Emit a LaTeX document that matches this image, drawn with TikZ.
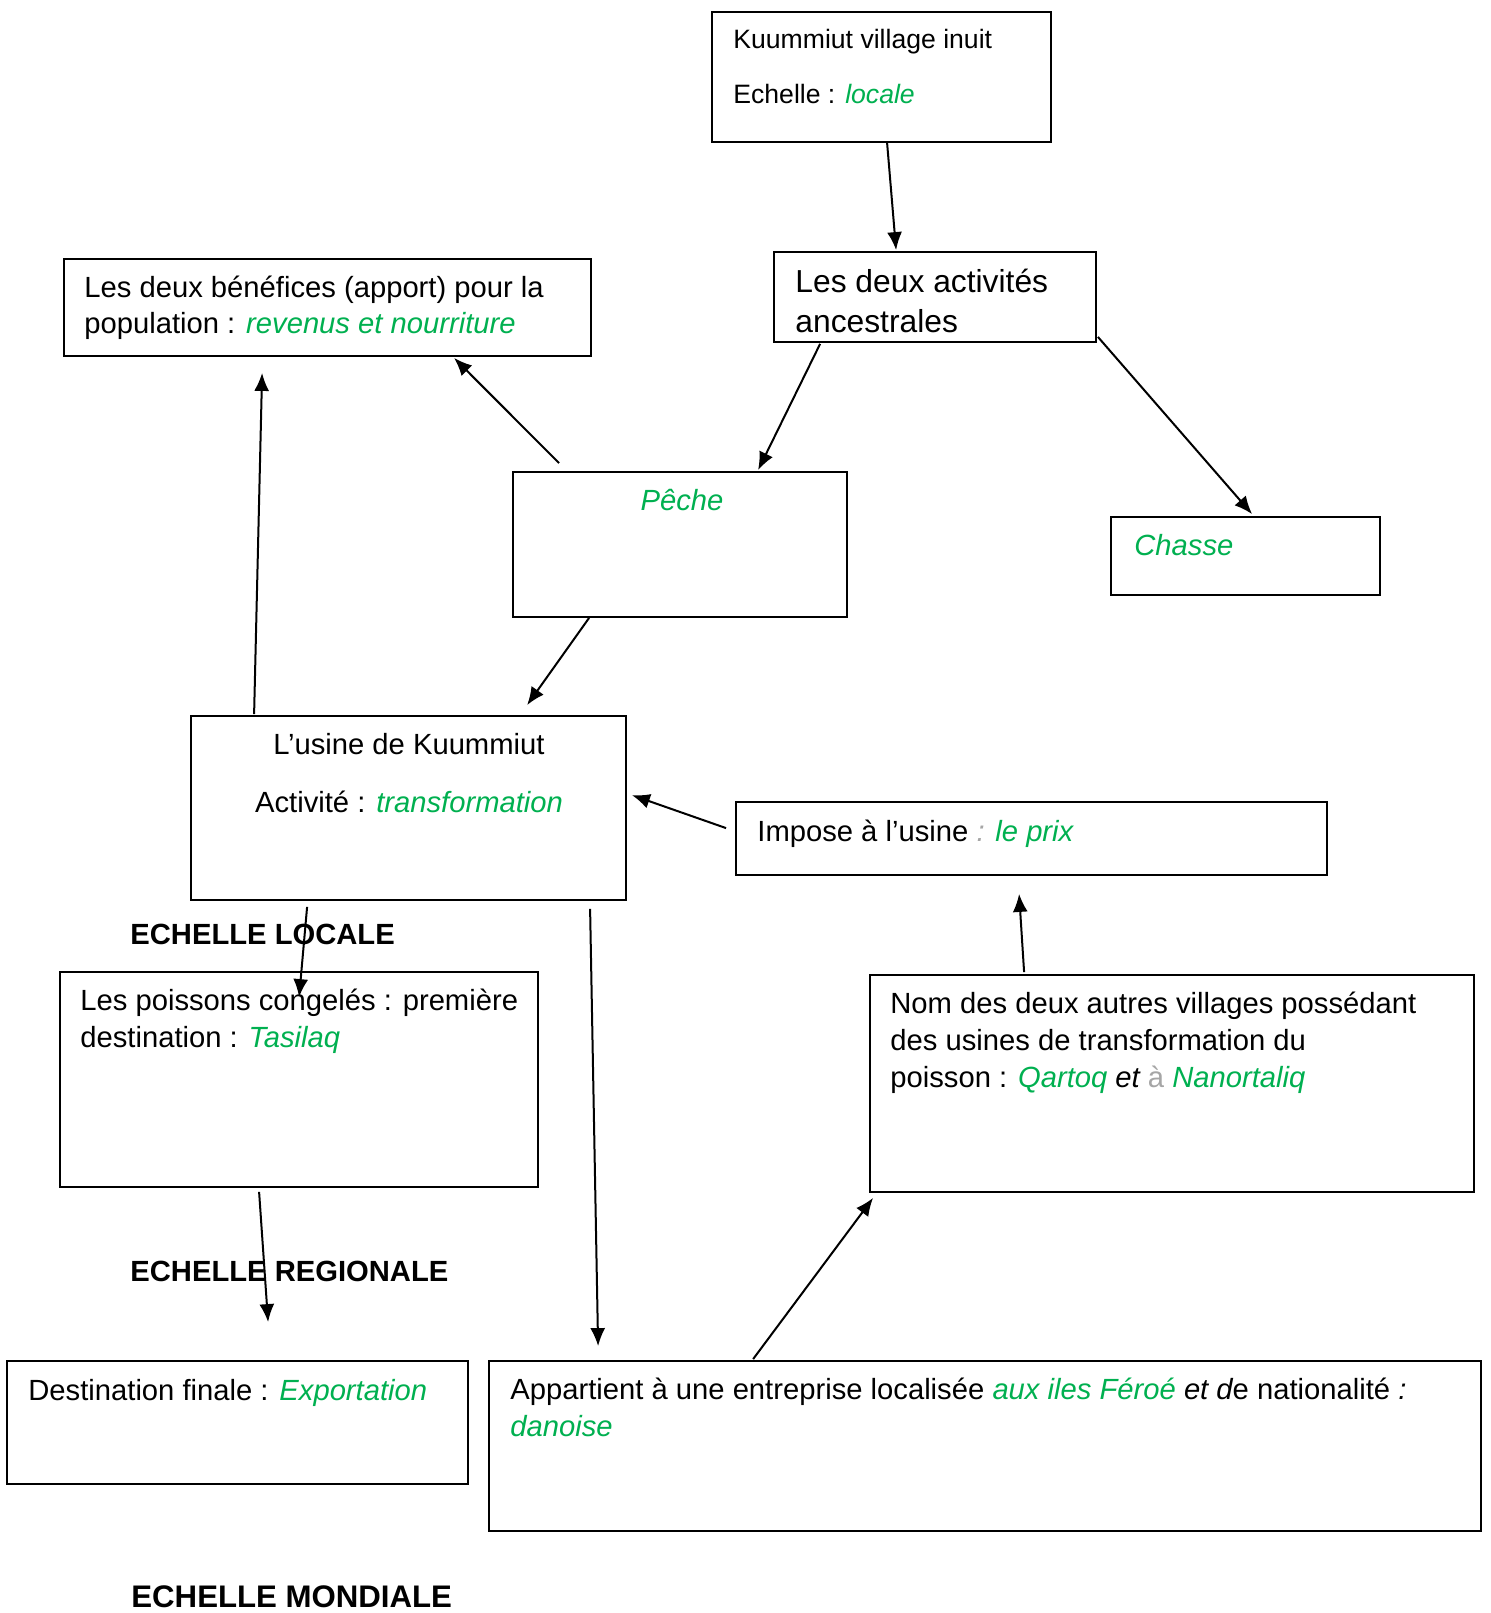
\documentclass[tikz,border=0pt]{standalone}
\usepackage{fontspec}
\setmainfont{Liberation Sans}
\usetikzlibrary{fit,arrows.meta}
\definecolor{grn}{HTML}{00B050}
\definecolor{gry}{HTML}{A6A6A6}
\tikzset{
  box/.style={draw=black, line width=0.9pt, inner sep=0pt, rectangle},
  txt/.style={inner sep=0pt, anchor=base west, font=\fontsize{14.6}{18}\selectfont},
  lbl/.style={inner sep=0pt, anchor=base west, font=\fontsize{14.6}{18}\selectfont\bfseries},
  arr/.style={line width=1pt, -{Latex[length=9pt,width=7.5pt]}},
}
\newcommand{\gi}[1]{{\color{grn}\itshape #1}}
\begin{document}
\begin{tikzpicture}[x=0.5pt,y=-0.5pt]
\path[use as bounding box, fill=white] (0,0) rectangle (1490,1613);
% boxes
\node[box, fit={(712,12)(1051,142)}] (kuu) {};
\node[box, fit={(774,252)(1096,342)}] (act) {};
\node[box, fit={(64,259)(591,356)}] (ben) {};
\node[box, fit={(513,472)(847,617)}] (pec) {};
\node[box, fit={(1111,517)(1380,595)}] (cha) {};
\node[box, fit={(191,716)(626,900)}] (usi) {};
\node[box, fit={(736,802)(1327,875)}] (imp) {};
\node[box, fit={(60,972)(538,1187)}] (con) {};
\node[box, fit={(870,975)(1474,1192)}] (nom) {};
\node[box, fit={(7,1361)(468,1484)}] (des) {};
\node[box, fit={(489,1361)(1481,1531)}] (app) {};
% texts
\node[txt, font=\fontsize{13.3}{16}\selectfont] (t1a) at (733,48) {Kuummiut village inuit};
\node[txt, font=\fontsize{13.3}{16}\selectfont] (t1b) at (733,103) {Echelle : \gi{locale}};
\node[txt, font=\fontsize{15.9}{20}\selectfont] (t2a) at (795,292) {Les deux activités};
\node[txt, font=\fontsize{15.9}{20}\selectfont] (t2b) at (795,332) {ancestrales};
\node[txt] (t3a) at (84,297) {Les deux bénéfices (apport) pour la};
\node[txt] (t3b) at (84,333) {population : \gi{revenus et nourriture}};
\node[txt, anchor=base] (t4) at (682,510) {\gi{Pêche}};
\node[txt] (t5) at (1134,555) {\gi{Chasse}};
\node[txt, anchor=base] (t6a) at (409,754) {L’usine de Kuummiut};
\node[txt, anchor=base] (t6b) at (409,812) {Activité : \gi{transformation}};
\node[txt] (t7) at (757,841) {Impose à l’usine {\color{gry}\itshape :} \gi{le prix}};
\node[txt] (t8a) at (80,1010) {Les poissons congelés : première};
\node[txt] (t8b) at (80,1047) {destination : \gi{Tasilaq}};
\node[txt] (t9a) at (890,1013) {Nom des deux autres villages possédant};
\node[txt] (t9b) at (890,1050) {des usines de transformation du};
\node[txt] (t9c) at (890,1087) {poisson : \gi{Qartoq} {\itshape et} {\color{gry}à} \gi{Nanortaliq}};
\node[txt] (t10) at (28,1400) {Destination finale : \gi{Exportation}};
\node[txt] (t11a) at (510,1399) {Appartient à une entreprise localisée \gi{aux iles Féroé} {\itshape et d}e nationalité {\itshape :}};
\node[txt] (t11b) at (510,1436) {\gi{danoise}};
\node[lbl] (e1) at (130,944) {ECHELLE LOCALE};
\node[lbl] (e2) at (130,1281) {ECHELLE REGIONALE};
\node[lbl, font=\fontsize{15.6}{18}\selectfont\bfseries] (e3) at (131,1607) {ECHELLE MONDIALE};
% arrows
\draw[arr] ([shift={(176,0)}]kuu.south west) -- ([shift={(123,-1)}]act.north west);
\draw[arr] ([shift={(47,1)}]act.south west) -- ([shift={(246,-1)}]pec.north west);
\draw[arr] ([shift={(1,-6)}]act.south east) -- ([shift={(142,-2)}]cha.north west);
\draw[arr] ([shift={(47,-8)}]pec.north west) -- ([shift={(391,1)}]ben.south west);
\draw[arr] ([shift={(64,-1)}]usi.north west) -- ([shift={(199,16)}]ben.south west);
\draw[arr] ([shift={(77,0)}]pec.south west) -- ([shift={(337,-10)}]usi.north west);
\draw[arr] ([shift={(-9,27)}]imp.north west) -- ([shift={(5,80)}]usi.north east);
\draw[arr] ([shift={(117,6)}]usi.south west) -- ([shift={(240,26)}]con.north west);
\draw[arr] ([shift={(400,8)}]usi.south west) -- ([shift={(110,-14)}]app.north west);
\draw[arr] ([shift={(200,4)}]con.south west) -- ([shift={(262,-38)}]des.north west);
\draw[arr] ([shift={(155,-2)}]nom.north west) -- ([shift={(284,18)}]imp.south west);
\draw[arr] ([shift={(265,-1)}]app.north west) -- ([shift={(4,5)}]nom.south west);
\end{tikzpicture}
\end{document}
